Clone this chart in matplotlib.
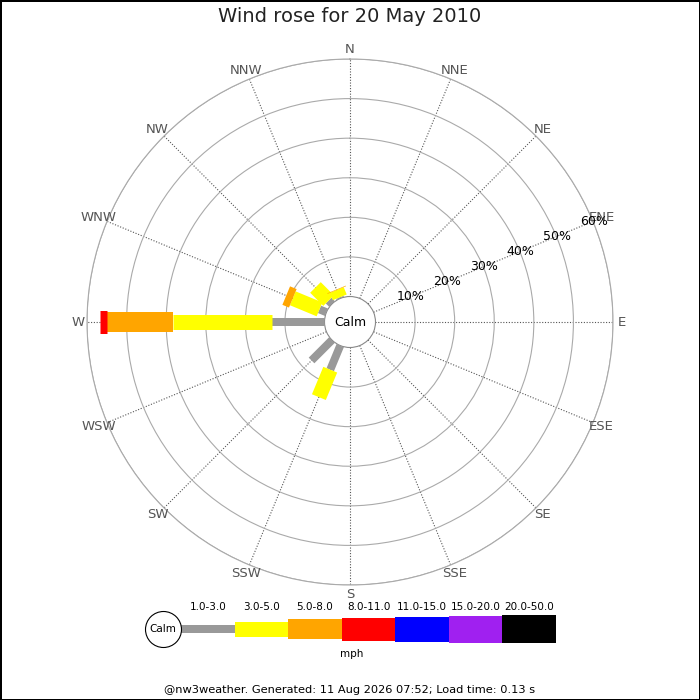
import numpy as np
import matplotlib
matplotlib.use("Agg")
import matplotlib.pyplot as plt

# Directions and speed bins
directions = ["N", "NNE", "NE", "ENE", "E", "ESE", "SE", "SSE",
              "S", "SSW", "SW", "WSW", "W", "WNW", "NW", "NNW"]
speed_bins = ["1.0-3.0", "3.0-5.0", "5.0-8.0", "8.0-11.0",
              "11.0-15.0", "15.0-20.0", "20.0-50.0"]

# Frequency (%) per direction for each speed bin
freq_1_3 = [0, 0, 0, 0, 0, 0, 0, 0, 0, 6.6, 7.3, 0, 13.3, 1.9, 1.2, 0.3]
freq_3_5 = [0, 0, 0, 0, 0, 0, 0, 0, 0, 7.5, 0, 0, 24.9, 7.3, 4.7, 2.0]
freq_5_8 = [0, 0, 0, 0, 0, 0, 0, 0, 0, 0, 0, 0, 16.8, 1.8, 0, 0.15]
freq_8_11 = [0, 0, 0, 0, 0, 0, 0, 0, 0, 0, 0, 0, 1.7, 0, 0, 0]
freq_11_15 = [0] * 16
freq_15_20 = [0] * 16
freq_20_50 = [0] * 16

ring_pcts = [10, 20, 30, 40, 50, 60]

# styles
colors = ["#999999", "#ffff00", "#ffa500", "#ff0000", "#0000ff", "#a020f0", "#000000"]
thick_px = [8, 15, 20, 23, 25, 27, 28]
calm_hole = 6.44  # radius of the calm circle in % units
DPI = 100


def px2pt(p):
    return p * 72.0 / DPI


def main():
    freqs = [freq_1_3, freq_3_5, freq_5_8, freq_8_11,
             freq_11_15, freq_15_20, freq_20_50]
    fig = plt.figure(figsize=(7, 7), dpi=DPI)
    fig.patch.set_edgecolor("black")
    fig.patch.set_linewidth(2)

    # Rose
    R = 263.0
    ax = fig.add_axes([(350 - R) / 700, (378 - R) / 700, 2 * R / 700, 2 * R / 700],
                      projection="polar")
    ax.set_theta_zero_location("N")
    ax.set_theta_direction(-1)
    ax.set_ylim(0, 60)
    ax.set_rorigin(-calm_hole)

    angles = np.arange(16) * 22.5
    ax.set_thetagrids(angles, labels=[""] * 16)
    ax.set_rgrids(ring_pcts, labels=[""] * len(ring_pcts))
    ax.xaxis.grid(True, linestyle=(0, (1, 1.5)), color="#555555", lw=0.8)
    ax.yaxis.grid(True, linestyle="-", color="#aaaaaa", lw=0.8)
    ax.spines["polar"].set_color("#aaaaaa")
    ax.spines["polar"].set_linewidth(0.8)
    ax.spines["inner"].set_color("#888888")
    ax.spines["inner"].set_linewidth(0.8)

    for i, d in enumerate(directions):
        th = np.deg2rad(angles[i])
        bottom = 0.0
        for k in range(len(speed_bins)):
            v = freqs[k][i]
            if v > 0:
                ax.plot([th, th], [bottom, bottom + v], color=colors[k],
                        lw=px2pt(thick_px[k]), solid_capstyle="butt", zorder=3 + k)
                bottom += v
        ax.text(th, 62.3, d, ha="center", va="center", fontsize=9.5,
                color="#555555", clip_on=False)

    for p in ring_pcts:
        ax.text(np.deg2rad(67.5), p + 0.2, f"{p}%", ha="center", va="center",
                fontsize=9, color="black", zorder=10)

    ax.text(0.5, 0.5, "Calm", transform=ax.transAxes, ha="center", va="center",
            fontsize=9, zorder=10)

    fig.text(0.5, 1 - 17 / 700, "Wind rose for 20 May 2010", ha="center",
             va="center", fontsize=14, color="#222222")

    # Legend
    lax = fig.add_axes([181 / 700, 51 / 700, 375 / 700, 40 / 700])
    lax.set_xlim(0, 7)
    lax.set_ylim(-20, 20)
    lax.axis("off")
    for k, lab in enumerate(speed_bins):
        h = thick_px[k]
        lax.bar(k + 0.5, h, width=1, bottom=-h / 2, color=colors[k], lw=0)
        lax.text(k + 0.5, 22, lab, ha="center", va="center", fontsize=7.5,
                 clip_on=False)
    cx = (163 - 181) / (375 / 7)
    lax.scatter([cx], [0], s=(px2pt(36)) ** 2, facecolor="white",
                edgecolor="black", lw=0.8, zorder=5, clip_on=False)
    lax.text(cx, 0, "Calm", ha="center", va="center", fontsize=7.5, zorder=6)
    lax.text(3.18, -25, "mph", ha="center", va="center", fontsize=7.5,
             clip_on=False)

    fig.text(0.5, 10 / 700,
             "@nw3weather. Generated: 11 Aug 2026 07:52; Load time: 0.13 s",
             ha="center", va="center", fontsize=8.2)

    fig.savefig("out.png", dpi=DPI)


if __name__ == "__main__":
    main()
